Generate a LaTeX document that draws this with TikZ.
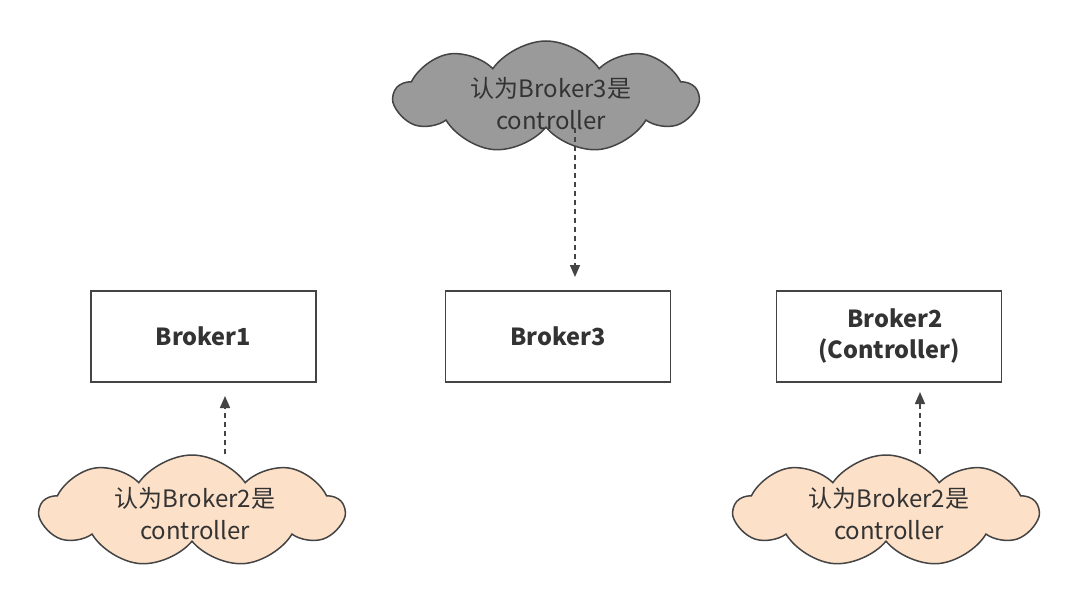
\documentclass[tikz,border=0pt]{standalone}
\usepackage{fontspec}
\setmainfont{Noto Sans CJK SC}
\usetikzlibrary{shapes.symbols,arrows.meta}
\definecolor{edge}{HTML}{444444}
\definecolor{txt}{HTML}{333333}
\definecolor{graycloud}{HTML}{9A9A9A}
\definecolor{peach}{HTML}{FCE0C8}
\tikzset{
  brokerbox/.style={draw=edge, line width=1.5pt, fill=white, minimum width=225pt, minimum height=91pt, inner sep=0pt, text=txt, font=\fontsize{23.5pt}{31pt}\selectfont\bfseries, align=center},
  thought/.style={cloud, cloud puffs=9, cloud puff arc=110, cloud ignores aspect, draw=edge, line width=1.5pt, minimum width=303pt, minimum height=112pt, inner sep=0pt},
  thoughttext/.style={text=txt, font=\fontsize{24pt}{32pt}\selectfont, align=center, inner sep=0pt},
  dasharrow/.style={draw=edge, line width=1.6pt, dash pattern=on 5pt off 4pt, -{Triangle[length=12pt,width=10pt]}}
}
\begin{document}
\begin{tikzpicture}[x=1pt,y=-1pt]
\useasboundingbox (0,0) rectangle (1074,589);
\fill[white] (0,0) rectangle (1074,589);
\node[brokerbox] (b1) at (203.5,336.5) {Broker1};
\node[brokerbox] (b3) at (558,336.5) {Broker3};
\node[brokerbox] (b2) at (889,336.5) {\hspace*{12pt}Broker2\\(Controller)};
\node[thought, fill=graycloud] (c3) at (546,97) {};
\node[thoughttext] (c3t) at (551,104) {认为Broker3是\\controller};
\node[thought, fill=peach] (c1) at (192,511) {};
\node[thoughttext] (c1t) at (195,514) {认为Broker2是\\controller};
\node[thought, fill=peach] (c2) at (886,511) {};
\node[thoughttext] (c2t) at (889,514) {认为Broker2是\\controller};
\coordinate (t3) at (575,277);
\coordinate (t1) at (225,396);
\coordinate (t2) at (920,392);
\draw[dasharrow] (c3.south -| t3) -- (t3);
\draw[dasharrow] (c1.north -| t1) -- (t1);
\draw[dasharrow] (c2.north -| t2) -- (t2);
\end{tikzpicture}
\end{document}
